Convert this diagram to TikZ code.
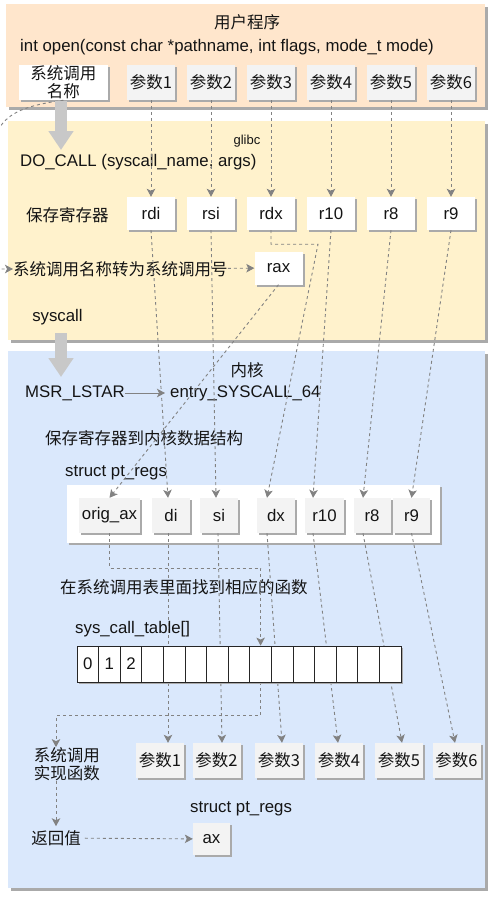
\documentclass[tikz,border=0pt]{standalone}
\usepackage{fontspec}
\setmainfont{Liberation Sans}
\newfontfamily\cjk{Noto Sans CJK SC}
\usetikzlibrary{arrows.meta,shadows,calc}
\definecolor{userpeach}{HTML}{FFE6CC}
\definecolor{glibcyellow}{HTML}{FFF2CC}
\definecolor{kernelblue}{HTML}{DAE8FC}
\definecolor{linegray}{RGB}{130,130,130}
\definecolor{shadowgray}{RGB}{170,170,170}
\definecolor{boxgray}{RGB}{243,243,243}
\definecolor{arrowgray}{RGB}{200,200,200}
\pgfdeclarelayer{back}
\pgfdeclarelayer{front}
\pgfsetlayers{back,main,front}

\begin{document}
\begin{tikzpicture}[x=1pt, y=-1pt,
  every node/.style={font=\fontsize{16.8}{18}\selectfont, text=black!92, inner sep=0pt},
  zh/.style={font=\fontsize{16.5}{18}\selectfont\cjk},
  panel/.style={general shadow={fill=shadowgray, shadow xshift=3pt, shadow yshift=-3pt}},
  regbox/.style={fill=white, minimum width=48pt, minimum height=33pt,
    general shadow={fill=shadowgray, shadow xshift=2pt, shadow yshift=-2pt}},
  parbox/.style={regbox, fill=boxgray},
  cellbox/.style={draw=black!85, line width=0.8pt, fill=white, minimum width=21.6pt, minimum height=36pt,
    general shadow={fill=shadowgray, shadow xshift=2pt, shadow yshift=-2pt}},
  dline/.style={draw=linegray, line width=0.9pt, dash pattern=on 3pt off 3pt,
    -{Stealth[length=8pt, width=8.5pt, inset=2pt]}},
  sline/.style={draw=linegray, line width=0.9pt, -{Stealth[length=8pt, width=8.5pt, inset=2pt]}},
  bigarrow/.style={draw=arrowgray, line width=12pt, -{Triangle[length=19pt, width=24pt]}}
]
\useasboundingbox (0,0) rectangle (495,900);

% three layers: user program, glibc, kernel
\begin{pgfonlayer}{back}
\path[panel, fill=userpeach] (6,4) rectangle (485,107);
\path[panel, fill=glibcyellow] (8,121) rectangle (485,340);
\path[panel, fill=kernelblue] (8,351) rectangle (485,888);
\end{pgfonlayer}

% user program
\node[zh] (userlbl) at (247,22) {用户程序};
\node[anchor=west] (opentxt) at (20,47) {int open(const char *pathname, int flags, mode\_t mode)};
\node[regbox, zh, align=center, minimum width=89pt, minimum height=35pt] (namebox) at (63.5,82.5) {系统调用\\名称};
\foreach \i in {1,...,6}
  \node[parbox, zh, minimum height=35pt] (upar\i) at (91+60*\i,82.5) {参数\i};

% glibc
\node[font=\fontsize{13}{15}\selectfont] (glibclbl) at (247,141) {glibc};
\node[anchor=west] (docall) at (20,162) {DO\_CALL (syscall\_name, args)};
\node[zh, anchor=west] (savelbl) at (26,215) {保存寄存器};
\foreach \r [count=\i] in {rdi,rsi,rdx,r10,r8,r9}
  \node[regbox] (\r) at (91+60*\i,213.5) {\r};
\node[zh, anchor=west] (convlbl) at (13,269) {系统调用名称转为系统调用号};
\node[regbox] (rax) at (278.5,268) {rax};
\node (syscalllbl) at (57.5,317) {syscall};

% kernel
\node[zh] (kernlbl) at (247,370) {内核};
\node[anchor=west] (msr) at (25,393) {MSR\_LSTAR};
\node[anchor=west] (entry) at (170,393) {entry\_SYSCALL\_64};
\node[zh, anchor=west] (savekern) at (45,438) {保存寄存器到内核数据结构};
\node[anchor=west] (ptlbl) at (65,473) {struct pt\_regs};
\node[regbox, minimum width=373pt, minimum height=58pt] (ptbox) at (253.5,514) {};
\node[parbox, minimum width=61pt, minimum height=35pt] (korig) at (109.5,515.5) {orig\_ax};
\foreach \r/\x/\w in {di/171/38pt, si/219/38pt, dx/276/38pt, r10/324.5/39pt, r8/372/37pt, r9/411.5/37pt}
  \node[parbox, minimum width=\w, minimum height=35pt] (k\r) at (\x,515.5) {\r};
\node[zh, anchor=west] (findlbl) at (60,587) {在系统调用表里面找到相应的函数};
\node[anchor=west] (tbllbl) at (75,629) {sys\_call\_table[]};
\begin{pgfonlayer}{front}
\foreach \i in {1,...,15}
  \node[cellbox] (cell\i) at (66.2+21.6*\i,664) {\ifnum\i<4 \number\numexpr\i-1\relax\fi};
\end{pgfonlayer}
\node[zh, align=center] (funclbl) at (67,764) {系统调用\\实现函数};
\foreach \x [count=\i] in {160,216.5,279,339,399,456.5}
  \node[parbox, zh, minimum height=35pt] (kpar\i) at (\x,760.5) {参数\i};
\node[zh, inner sep=4pt] (retlbl) at (56,838) {返回值};
\node[anchor=west] (axlbl) at (190,809) {struct pt\_regs};
\node[parbox, minimum width=37pt, minimum height=32pt] (ax) at (211.5,839) {ax};

% connectors
\draw[dline] (namebox.south) .. controls (22,106) and (2,114) .. (-6,140) -- (-6,269) -- (convlbl.west);
\foreach \r [count=\i] in {rdi,rsi,rdx,r10,r8,r9}
  \draw[dline] (upar\i) -- (\r);
\draw[dline] (convlbl) -- (rax);
\draw[sline] (msr) -- ($(entry.west)+(-5,0)$);
\draw[dline] (rdi.south) -- ($(kdi.north)+(-3,0)$);
\draw[dline] (rsi.south) -- ($(ksi.north)+(-3,0)$);
\draw[dline] (rdx.south) -- ++(0,14) -- ++(47,0) -- ($(kdx.north)+(-9,0)$);
\draw[dline] (r10.south) -- ($(kr10.north)+(-11.5,0)$);
\draw[dline] (r8.south) -- ($(kr8.north)+(-9,0)$);
\draw[dline] (r9.south) -- (kr9.north);
\draw[dline] (rax.south) -- (korig.north);
\draw[dline] (korig.south) -- ++(0,35) -| (cell9.north);
\foreach \r/\p/\a/\b in {di/1/-3/8, si/2/-1/5.5, dx/3/-9/3, r10/4/-11.5/-1, r8/5/-9/3, r9/6/0/-1.5}
  \draw[dline] ($(k\r.south)+(\a,0)$) -- ($(kpar\p.north)+(\b,0)$);
\draw[dline] (cell9.south) -- ++(0,33) -| (funclbl.north -| retlbl.north);
\draw[dline] (funclbl.south -| retlbl.north) -- (retlbl.north);
\draw[dline] (retlbl) -- (ax);

% big gray arrows
\draw[bigarrow] (61,101) -- (61,150);
\draw[bigarrow] (61,333) -- (61,377);
\end{tikzpicture}
\end{document}
